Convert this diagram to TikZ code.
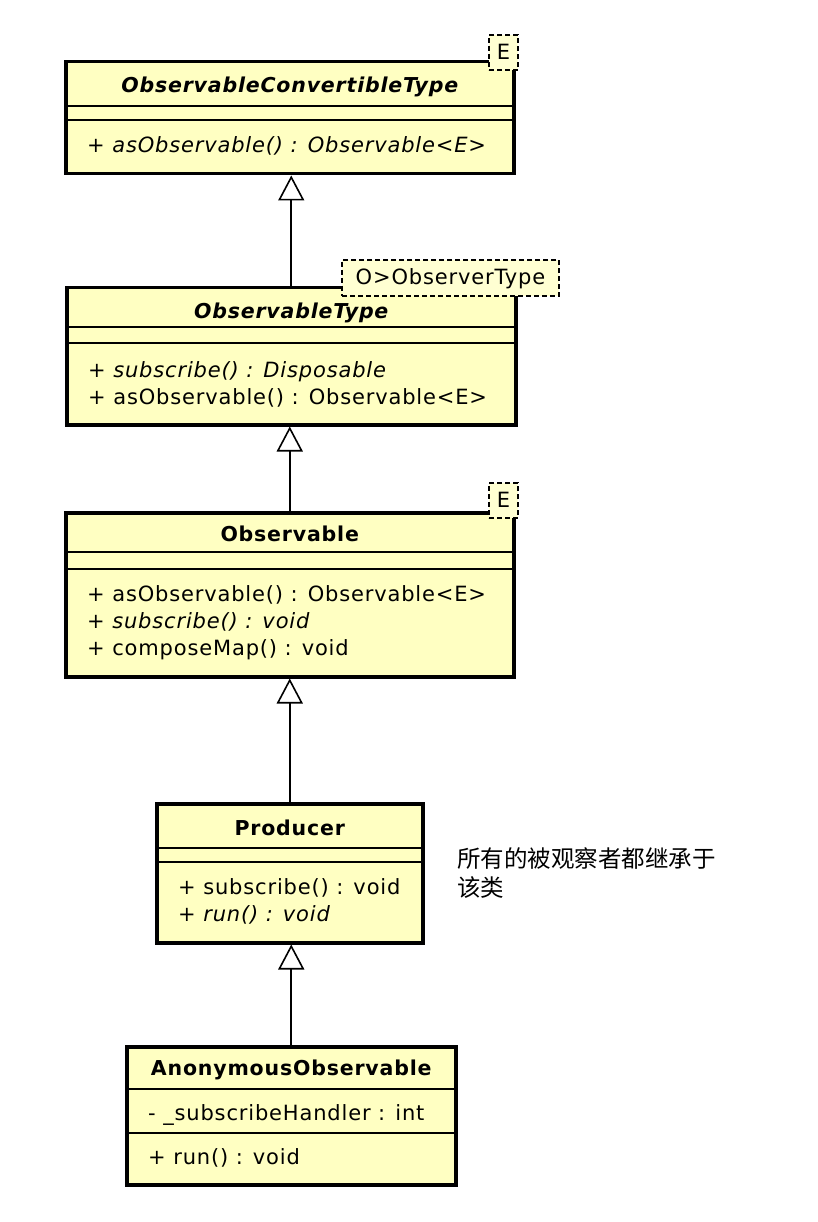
\documentclass[tikz,border=0pt]{standalone}
\usepackage{fontspec}
\setmainfont{DejaVu Sans}[LetterSpace=4]
\newfontfamily\cjkfont{Noto Sans CJK SC}
\usetikzlibrary{arrows.meta, positioning}
\definecolor{umlYellow}{RGB}{255,255,194}
\definecolor{umlParam}{RGB}{255,255,210}
\newcommand{\umlfont}{\fontsize{21}{25}\selectfont}
\newcommand{\umltitle}{\fontsize{20.5}{25}\selectfont\bfseries}

\begin{document}
\begin{tikzpicture}[x=1pt, y=-1pt, node distance=7pt,
classbox/.style={rectangle, draw=black, line width=3.5pt,
fill=umlYellow, inner sep=0pt, anchor=north west},
sep/.style={line width=1.4pt},
txt/.style={inner sep=0pt, text height=18pt, text depth=2pt, font=\umlfont},
member/.style={txt, anchor=west},
tparam/.style={rectangle, draw=black, dash pattern=on 5pt off 3pt,
line width=1.3pt, fill=umlParam, inner sep=0pt, font=\umlfont,
text height=17pt, text depth=3pt},
inherit/.style={-{Triangle[open, length=25pt, width=26pt]}, line width=1.6pt}]
\useasboundingbox (0,0) rectangle (818,1222);

% ObservableConvertibleType
\node[classbox, minimum width=448pt, minimum height=112pt] (oct) at (64,60) {};
\node[txt, font=\umltitle\itshape] (octname) at ([yshift=-25pt]oct.north)
    {ObservableConvertibleType};
\draw[sep] ([yshift=-46pt]oct.north west) -- ([yshift=-46pt]oct.north east);
\draw[sep] ([yshift=-60pt]oct.north west) -- ([yshift=-60pt]oct.north east);
\node[member, font=\umlfont\itshape] (octop1) at ([xshift=23pt, yshift=-85pt]oct.north west)
    {+ asObservable() : Observable<E>};
\node[tparam, minimum width=29pt, minimum height=35pt] (octparam) at (503.5,52.5) {E};

% ObservableType
\node[classbox, minimum width=449pt, minimum height=137pt] (ot) at (65,286) {};
\node[txt, font=\umltitle\itshape] (otname) at ([yshift=-24pt]ot.north)
    {ObservableType};
\draw[sep] ([yshift=-41pt]ot.north west) -- ([yshift=-41pt]ot.north east);
\draw[sep] ([yshift=-57pt]ot.north west) -- ([yshift=-57pt]ot.north east);
\node[member, font=\umlfont\itshape] (otop1) at ([xshift=23pt, yshift=-83pt]ot.north west)
    {+ subscribe() : Disposable};
\node[member, below=of otop1.south west, anchor=north west] (otop2)
    {+ asObservable() : Observable<E>};
\node[tparam, minimum width=217pt, minimum height=36pt] (otparam) at (450.5,278) {O>ObserverType};

% Observable
\node[classbox, minimum width=448pt, minimum height=164pt] (obs) at (64,511) {};
\node[txt, font=\umltitle] (obsname) at ([yshift=-22pt]obs.north) {Observable};
\draw[sep] ([yshift=-41pt]obs.north west) -- ([yshift=-41pt]obs.north east);
\draw[sep] ([yshift=-58pt]obs.north west) -- ([yshift=-58pt]obs.north east);
\node[member] (obsop1) at ([xshift=23pt, yshift=-82pt]obs.north west)
    {+ asObservable() : Observable<E>};
\node[member, font=\umlfont\itshape, below=of obsop1.south west, anchor=north west] (obsop2)
    {+ subscribe() : void};
\node[member, below=of obsop2.south west, anchor=north west] (obsop3)
    {+ composeMap() : void};
\node[tparam, minimum width=29pt, minimum height=35pt] (obsparam) at (503.5,500.5) {E};

% Producer
\node[classbox, minimum width=266pt, minimum height=139pt] (prod) at (155,802) {};
\node[txt, font=\umltitle] (prodname) at ([yshift=-25pt]prod.north) {Producer};
\draw[sep] ([yshift=-46pt]prod.north west) -- ([yshift=-46pt]prod.north east);
\draw[sep] ([yshift=-60pt]prod.north west) -- ([yshift=-60pt]prod.north east);
\node[member] (prodop1) at ([xshift=23pt, yshift=-84pt]prod.north west)
    {+ subscribe() : void};
\node[member, font=\umlfont\itshape, below=of prodop1.south west, anchor=north west] (prodop2)
    {+ run() : void};

% note
\node[inner sep=0pt, anchor=north west, align=left,
    font=\cjkfont\fontsize{23.5}{29}\selectfont] (note) at (457,847)
    {所有的被观察者都继承于\\该类};

% AnonymousObservable
\node[classbox, minimum width=329pt, minimum height=138pt] (anon) at (125,1045) {};
\node[txt, font=\umltitle] (anonname) at ([yshift=-22pt]anon.north)
    {AnonymousObservable};
\draw[sep] ([yshift=-44pt]anon.north west) -- ([yshift=-44pt]anon.north east);
\draw[sep] ([yshift=-88pt]anon.north west) -- ([yshift=-88pt]anon.north east);
\node[member] (anonattr) at ([xshift=23pt, yshift=-67pt]anon.north west)
    {- \_subscribeHandler : int};
\node[member] (anonop1) at ([xshift=23pt, yshift=-111pt]anon.north west)
    {+ run() : void};

% generalizations
\draw[inherit] (ot.north) -- (ot.north |- oct.south);
\draw[inherit] (obs.north) -- (obs.north |- ot.south);
\draw[inherit] (prod.north) -- (prod.north |- obs.south);
\draw[inherit] (anon.north) -- (anon.north |- prod.south);
\end{tikzpicture}
\end{document}
